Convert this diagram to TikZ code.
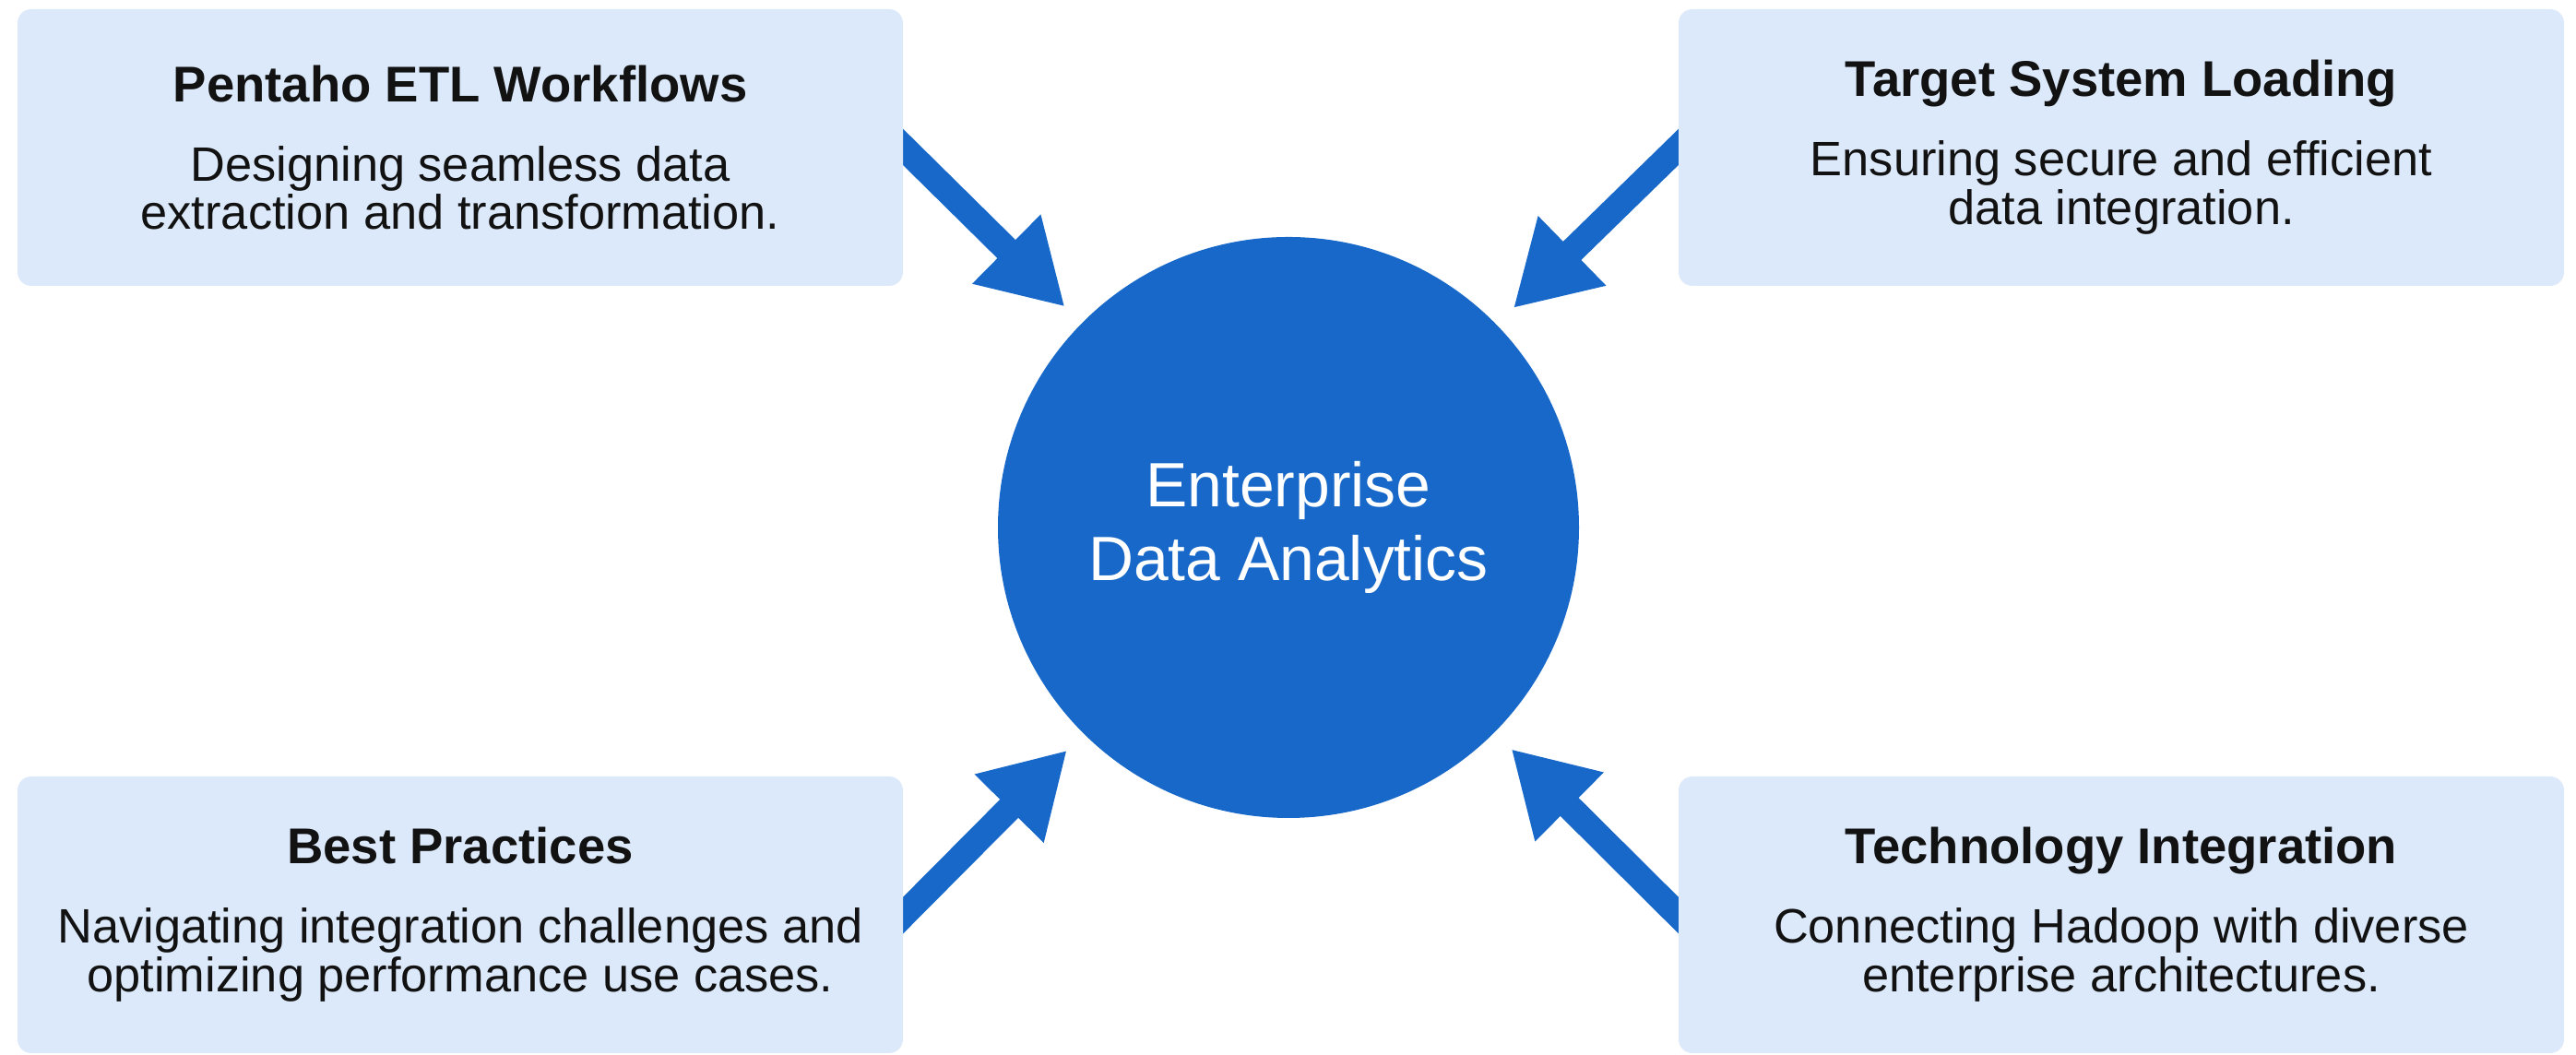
\documentclass[tikz,border=0pt]{standalone}
\usepackage{fontspec}
\setmainfont{Liberation Sans}
\usetikzlibrary{arrows.meta,backgrounds}

\definecolor{hubblue}{RGB}{23,104,201}
\definecolor{cardfill}{RGB}{220,233,250}
\definecolor{inkdark}{RGB}{18,18,18}

\tikzset{
  card/.style={fill=cardfill, rounded corners=0.15cm, minimum width=9.6cm,
    minimum height=3.0cm, inner sep=0pt, align=center, text=inkdark,
    font=\fontsize{14.9}{15}\selectfont},
  hub/.style={circle, fill=hubblue, minimum size=6.3cm, inner sep=0pt,
    align=center, text=white, font=\fontsize{19.3}{23}\selectfont},
  feed/.style={draw=hubblue, line width=0.28cm,
    -{Triangle[length=0.89cm,width=0.99cm]},
    shorten >=0.25cm, shorten <=-0.4cm}
}
\newcommand{\cardhead}[1]{{\fontsize{15.5}{15}\selectfont\bfseries #1}}

\begin{document}
\begin{tikzpicture}
\useasboundingbox (0,0) rectangle (27.93,11.44);

\node[hub] (hub) at (13.97,5.72) {Enterprise\\Data Analytics};

\node[card] (etl) at (4.99,9.84)
  {\cardhead{Pentaho ETL Workflows}\\[9.5pt]Designing seamless data\\extraction and transformation.};
\node[card] (load) at (23.0,9.84)
  {\cardhead{Target System Loading}\\[9.5pt]Ensuring secure and efficient\\data integration.};
\node[card] (practice) at (4.99,1.52)
  {\cardhead{Best Practices}\\[9.5pt]Navigating integration challenges and\\optimizing performance use cases.};
\node[card] (tech) at (23.0,1.52)
  {\cardhead{Technology Integration}\\[9.5pt]Connecting Hadoop with diverse\\enterprise architectures.};

% page fill, then the arrows, all behind the cards
\begin{pgfonlayer}{background}
\fill[white] (0,0) rectangle (27.93,11.44);
\draw[feed] (etl.east) -- (hub);
\draw[feed] (load.west) -- (hub);
\draw[feed] (practice.east) -- (hub);
\draw[feed] (tech.west) -- (hub);
\end{pgfonlayer}

\end{tikzpicture}
\end{document}
